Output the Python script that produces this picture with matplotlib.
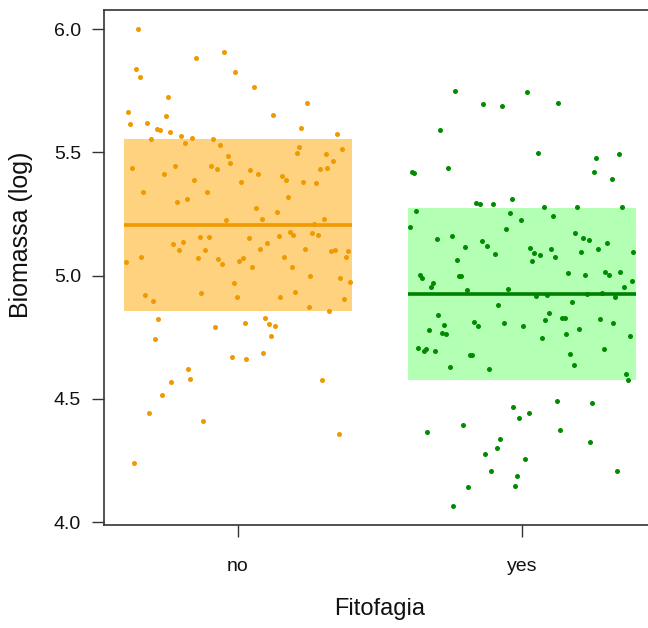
import matplotlib
matplotlib.use("Agg")
import matplotlib.pyplot as plt
import numpy as np

plt.rcParams['font.family'] = ['Liberation Sans', 'DejaVu Sans']

categories = ["no", "yes"]
x_label = "Fitofagia"
y_label = "Biomassa (log)"
y_ticks = [4.0, 4.5, 5.0, 5.5, 6.0]

# group summaries (mean line and mean +/- sd band)
group_means = [5.205, 4.926]
group_sds = [0.347, 0.348]

# jittered observations, group "no"
no_jitter = [-0.353, -0.360, -0.346, -0.248, -0.386, -0.379, -0.255, -0.320, -0.286, -0.275,
             -0.241, -0.307, -0.201, -0.187, -0.162, -0.148, -0.049, -0.009, 0.056, 0.123,
             -0.089, -0.062, 0.222, 0.242, 0.347, 0.215,
             0.209, -0.036, -0.029, 0.309, 0.367, 0.335, -0.373, -0.221, -0.261, -0.095,
             -0.075, 0.043, 0.069, 0.156, 0.169, 0.288, 0.314, -0.155, 0.011, 0.228,
             0.275, -0.333, -0.109, -0.215, -0.181, 0.176, 0.063, 0.136, -0.042, 0.083,
             0.302, 0.268, -0.228, -0.195, -0.135, -0.102, -0.208, -0.115, 0.038, 0.143,
             0.182, 0.195, 0.262, 0.282, 0.103, 0.076, 0.236, 0.327, 0.342, 0.386,
             -0.393, -0.340, -0.142, -0.069, -0.055, 0.004, 0.018, 0.050, 0.162, 0.189,
             0.380, 0.255, 0.360, 0.393, -0.016, -0.129, -0.326, -0.300, -0.004, 0.149,
             0.202, 0.374, 0.249, 0.320, -0.281, -0.293, -0.082, 0.024, 0.096, 0.110,
             0.129, 0.116, -0.022, 0.029, 0.089,
             -0.175, -0.168, -0.235, -0.267, -0.313, -0.122, -0.366, 0.295, 0.355]
no_values = [6.000, 5.836, 5.807, 5.723, 5.662, 5.613, 5.646, 5.617, 5.596, 5.589,
             5.582, 5.555, 5.566, 5.539, 5.559, 5.882, 5.907, 5.824, 5.765, 5.652,
             5.555, 5.528, 5.598, 5.700, 5.575, 5.521,
             5.496, 5.486, 5.458, 5.493, 5.512, 5.463, 5.437, 5.443, 5.412, 5.443,
             5.431, 5.427, 5.412, 5.404, 5.386, 5.431, 5.436, 5.386, 5.379, 5.378,
             5.374, 5.337, 5.339, 5.299, 5.312, 5.318, 5.274, 5.258, 5.224, 5.228,
             5.231, 5.209, 5.127, 5.135, 5.155, 5.155, 5.105, 5.103, 5.153, 5.161,
             5.178, 5.164, 5.172, 5.163, 5.132, 5.106, 5.108, 5.098, 5.105, 5.099,
             5.054, 5.075, 5.070, 5.067, 5.045, 5.058, 5.072, 5.034, 5.075, 5.036,
             5.074, 4.997, 4.990, 4.972, 4.970, 4.930, 4.921, 4.895, 4.912, 4.912,
             4.934, 4.903, 4.872, 4.855, 4.825, 4.744, 4.791, 4.806, 4.828, 4.803,
             4.795, 4.756, 4.669, 4.660, 4.687,
             4.622, 4.580, 4.567, 4.514, 4.441, 4.410, 4.239, 4.575, 4.358]

# jittered observations, group "yes"
yes_jitter = [-0.235, -0.136, -0.069, 0.016, 0.128, -0.288, 0.056, 0.261, 0.340, -0.387,
              -0.380, -0.262, 0.255, 0.315, -0.163, -0.148, -0.103, -0.036, 0.076, 0.195,
              0.353,
              -0.373, -0.393, -0.043, -0.004, 0.109, -0.056, -0.300, -0.248, -0.142, -0.122,
              -0.202, -0.096, -0.229, 0.029, 0.043, 0.062, 0.036, 0.102, 0.116, 0.188,
              0.215, 0.235, 0.208, 0.268, 0.300, 0.392, -0.361, -0.353, -0.221, -0.214,
              -0.320, -0.313, -0.195, -0.049, 0.161, 0.221, 0.293, 0.306, 0.346, 0.387,
              0.360, 0.049, 0.089, 0.228, 0.282, 0.326, -0.083, 0.175,
              -0.295, 0.095, -0.327, -0.274, -0.281, -0.268, -0.367, -0.346, -0.339, -0.307,
              -0.255, -0.169, -0.155, -0.063, 0.004, -0.183, -0.175, -0.115, 0.082, 0.141,
              0.150, 0.069, 0.155, 0.202, 0.275, 0.320, 0.380, 0.169, 0.183, 0.288,
              0.367, 0.373, 0.122, 0.248, -0.031, 0.024, -0.011,
              -0.335, -0.208, 0.135, 0.241, -0.076, -0.089, -0.129, 0.009, -0.109, -0.017,
              0.333, -0.189, -0.024, -0.242]
yes_values = [5.750, 5.697, 5.689, 5.744, 5.698, 5.589, 5.496, 5.478, 5.494, 5.419,
              5.417, 5.437, 5.421, 5.393, 5.295, 5.289, 5.289, 5.312, 5.279, 5.279,
              5.278,
              5.263, 5.198, 5.252, 5.225, 5.243, 5.190, 5.147, 5.161, 5.139, 5.121,
              5.117, 5.088, 5.063, 5.113, 5.090, 5.082, 5.058, 5.108, 5.076, 5.172,
              5.152, 5.144, 5.095, 5.106, 5.132, 5.095, 5.001, 4.989, 4.997, 4.997,
              4.955, 4.970, 4.940, 4.945, 5.010, 5.001, 5.013, 5.003, 5.015, 4.978,
              4.953, 4.918, 4.921, 4.924, 4.930, 4.914, 4.879, 4.891,
              4.841, 4.848, 4.779, 4.798, 4.765, 4.763, 4.707, 4.694, 4.703, 4.695,
              4.630, 4.813, 4.796, 4.806, 4.795, 4.679, 4.679, 4.621, 4.820, 4.829,
              4.829, 4.745, 4.764, 4.784, 4.825, 4.807, 4.756, 4.682, 4.637, 4.702,
              4.602, 4.576, 4.491, 4.484, 4.467, 4.441, 4.421,
              4.367, 4.395, 4.374, 4.325, 4.336, 4.300, 4.277, 4.256, 4.206, 4.187,
              4.207, 4.142, 4.145, 4.065]

point_colors = ["#EE9A00", "#008B00"]
band_colors = ["#FFD280", "#B3FFB3"]
line_colors = ["#EE9A00", "#008000"]

fig = plt.figure(figsize=(6.48, 6.28), dpi=100)
ax = fig.add_axes([0.1605, 0.164, 0.852, 0.820])

jitters = [no_jitter, yes_jitter]
values = [no_values, yes_values]
half = 0.4
for i, (jit, val) in enumerate(zip(jitters, values)):
    pos = i + 1
    m, s = group_means[i], group_sds[i]
    ax.fill_between([pos - half, pos + half], m - s, m + s,
                    color=band_colors[i], linewidth=0, zorder=1)
    ax.scatter(pos + np.array(jit), val, s=13, color=point_colors[i],
               linewidths=0, zorder=2)
    ax.plot([pos - half, pos + half], [m, m], color=line_colors[i],
            linewidth=2.6, solid_capstyle='butt', zorder=3)

ax.set_xlim(0.528, 2.472)
ax.set_ylim(3.988, 6.077)
ax.set_xticks([1, 2])
ax.set_xticklabels(categories)
ax.set_yticks(y_ticks)
ax.set_yticklabels([f"{t:.1f}" for t in y_ticks])

for sp in ax.spines.values():
    sp.set_color("#333333")
    sp.set_linewidth(1.2)

ax.tick_params(axis='both', direction='out', length=8.6, width=1.0,
               color="#333333", labelsize=14, labelcolor="#111111")
ax.tick_params(axis='y', pad=8)
ax.tick_params(axis='x', pad=15)

ax.set_xlabel(x_label, fontsize=17, color="#111111")
ax.set_ylabel(y_label, fontsize=18, color="#111111")
ax.xaxis.set_label_coords(0.5, -0.142)
ax.yaxis.set_label_coords(-0.129, 0.563)

fig.savefig("out.png", dpi=100)
